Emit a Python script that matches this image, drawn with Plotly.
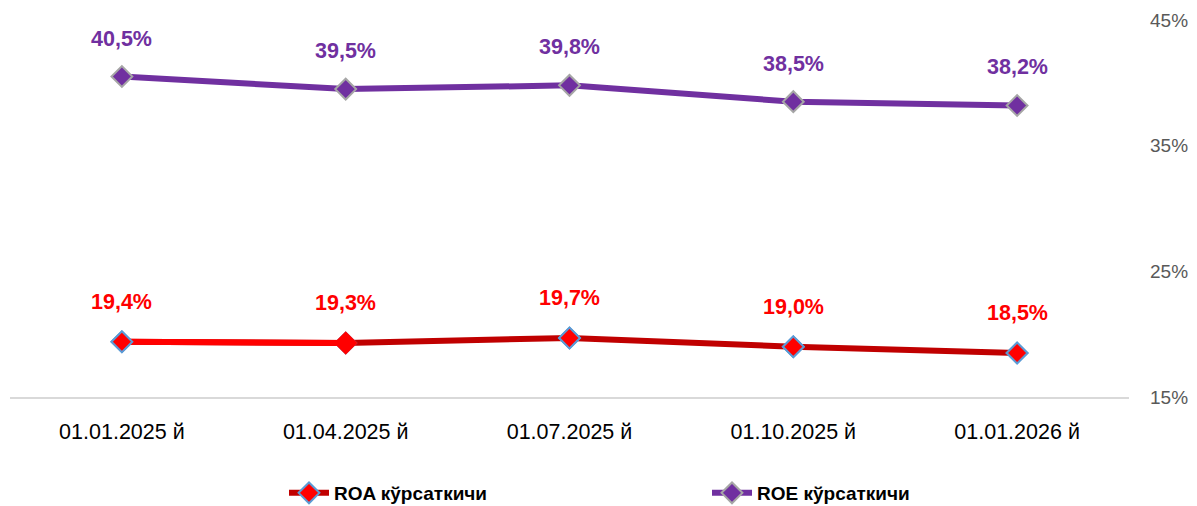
import plotly.graph_objects as go

categories = ["01.01.2025 й", "01.04.2025 й", "01.07.2025 й", "01.10.2025 й", "01.01.2026 й"]
roa = [19.4, 19.3, 19.7, 19.0, 18.5]
roe = [40.5, 39.5, 39.8, 38.5, 38.2]
y_ticks = [15, 25, 35, 45]

ROA_DARK = "#C00000"
ROA_BRIGHT = "#FF0000"
ROE_COL = "#7030A0"


def fmt(v):
    return f"{v:.1f}%".replace(".", ",")


fig = go.Figure()

fig.add_trace(go.Scatter(
    x=categories, y=roa, mode="lines+markers", name="ROA кўрсаткичи",
    line=dict(color=ROA_DARK, width=6),
    marker=dict(symbol="diamond", size=16, color=ROA_BRIGHT,
                line=dict(color="#5B9BD5", width=2)),
    legend="legend",
))
fig.add_trace(go.Scatter(
    x=categories[:2], y=roa[:2], mode="lines", line=dict(color=ROA_BRIGHT, width=6),
    showlegend=False, hoverinfo="skip",
))
fig.add_trace(go.Scatter(
    x=categories, y=roa, mode="markers", showlegend=False,
    marker=dict(symbol="diamond", size=16, color=ROA_BRIGHT,
                line=dict(color=["#5B9BD5", ROA_BRIGHT, "#5B9BD5", "#5B9BD5", "#5B9BD5"], width=2)),
))

fig.add_trace(go.Scatter(
    x=categories, y=roe, mode="lines+markers", name="ROE кўрсаткичи",
    line=dict(color=ROE_COL, width=6),
    marker=dict(symbol="diamond", size=16, color=ROE_COL,
                line=dict(color="#A6A6A6", width=2)),
    legend="legend2",
))

for c, v in zip(categories, roa):
    fig.add_annotation(x=c, y=v, text=fmt(v), showarrow=False, yshift=40,
                       font=dict(family="Liberation Sans", size=21.5, color=ROA_BRIGHT, weight="bold"))
for c, v in zip(categories, roe):
    fig.add_annotation(x=c, y=v, text=fmt(v), showarrow=False, yshift=38,
                       font=dict(family="Liberation Sans", size=21.5, color=ROE_COL, weight="bold"))

legend_font = dict(family="Liberation Sans", size=19, color="#000000", weight="bold")

W, H = 1189, 498
L, R, T, B = 2, 68, 12, 109
PW, PH = W - L - R, H - T - B

fig.update_layout(
    width=W, height=H,
    margin=dict(l=L, r=R, t=T, b=B, autoexpand=False),
    paper_bgcolor="white", plot_bgcolor="white",
    xaxis=dict(
        type="category", range=[-0.5, 4.5], showgrid=False, zeroline=False,
        showline=True, linecolor="#D9D9D9", linewidth=2,
        tickfont=dict(family="Liberation Sans", size=21.5, color="#000000"),
        ticks="", ticklabelstandoff=14, automargin=False,
    ),
    yaxis=dict(
        side="right", range=[15, 45], tickvals=y_ticks,
        ticktext=[f"{t}%" for t in y_ticks], showgrid=False, zeroline=False,
        showline=False,
        tickfont=dict(family="Liberation Sans", size=19, color="#595959"),
        ticklabelstandoff=20, automargin=False,
    ),
    legend=dict(
        orientation="h", x=(276 - L) / PW, xanchor="left",
        y=(PH + T - 485) / PH, yanchor="middle",
        font=legend_font, itemwidth=40, bgcolor="rgba(0,0,0,0)",
    ),
    legend2=dict(
        orientation="h", x=(699 - L) / PW, xanchor="left",
        y=(PH + T - 485) / PH, yanchor="middle",
        font=legend_font, itemwidth=40, bgcolor="rgba(0,0,0,0)",
    ),
    showlegend=True,
)

fig.write_html("out.html")
